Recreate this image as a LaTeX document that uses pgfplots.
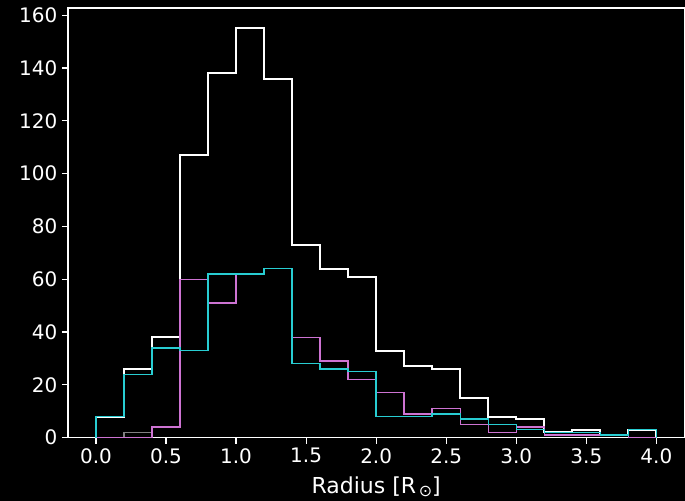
\documentclass[border=0pt]{standalone}
\usepackage{pgfplots}
\pgfplotsset{compat=1.18}
\usepackage{fontspec}
\setmainfont{DejaVu Sans}
\definecolor{histcyan}{RGB}{40,205,210}
\definecolor{histpink}{RGB}{205,115,210}
\definecolor{histgray}{RGB}{128,128,128}
\begin{document}
\begin{tikzpicture}
\fill[black] (-51pt,-47.25pt) rectangle (463.5pt,328.5pt);
\begin{axis}[
  scale only axis, width=462.75pt, height=322.5pt,
  at={(0,0)}, anchor=south west,
  xmin=-0.2, xmax=4.2, ymin=0, ymax=162.75,
  axis line style={white, line width=0.9pt},
  tick style={white, line width=0.9pt},
  tick align=outside, major tick length=4.5pt,
  xtick pos=bottom, ytick pos=left,
  xtick={0,0.5,...,4.0}, ytick={0,20,...,160},
  /pgf/number format/assume math mode=true,
  xticklabel style={/pgf/number format/.cd, fixed, fixed zerofill, precision=1},
  yticklabel style={/pgf/number format/.cd, fixed, precision=0},
  ticklabel style={white, font=\fontsize{15}{18}\selectfont},
  xlabel={Radius [R\kern2pt\raisebox{-0.3ex}{\fontsize{12}{12}\selectfont ⊙}]},
  label style={white, font=\fontsize{16.5}{19}\selectfont},
  xlabel style={yshift=-3pt},
  const plot,
]
\addplot[white, line width=1.5pt] coordinates {
  (0,0) (0,8) (0.2,26) (0.4,38) (0.6,107) (0.8,138) (1.0,155) (1.2,136)
  (1.4,73) (1.6,64) (1.8,61) (2.0,33) (2.2,27) (2.4,26) (2.6,15) (2.8,8)
  (3.0,7) (3.2,2) (3.4,3) (3.6,1) (3.8,3) (4.0,3) (4.0,0)};
\addplot[histgray, line width=1.1pt] coordinates {
  (0.2,0) (0.2,2) (0.4,0)};
\addplot[histpink, line width=1.1pt] coordinates {
  (0,0) (0,0) (0.2,0) (0.4,4) (0.6,60) (0.8,51) (1.0,62) (1.2,64)
  (1.4,38) (1.6,29) (1.8,22) (2.0,17) (2.2,9) (2.4,11) (2.6,5) (2.8,2)
  (3.0,4) (3.2,1) (3.4,1) (3.6,1) (3.8,0) (4.0,0) (4.0,0)};
\addplot[histcyan, line width=1.1pt] coordinates {
  (0,0) (0,8) (0.2,24) (0.4,34) (0.6,33) (0.8,62) (1.0,62) (1.2,64)
  (1.4,28) (1.6,26) (1.8,25) (2.0,8) (2.2,8) (2.4,9) (2.6,7) (2.8,5)
  (3.0,3) (3.2,2) (3.4,2) (3.6,1) (3.8,3) (4.0,3) (4.0,0)};
\end{axis}
\pgfresetboundingbox
\useasboundingbox (-51pt,-47.25pt) rectangle (463.2pt,328.5pt);
\end{tikzpicture}
\end{document}
